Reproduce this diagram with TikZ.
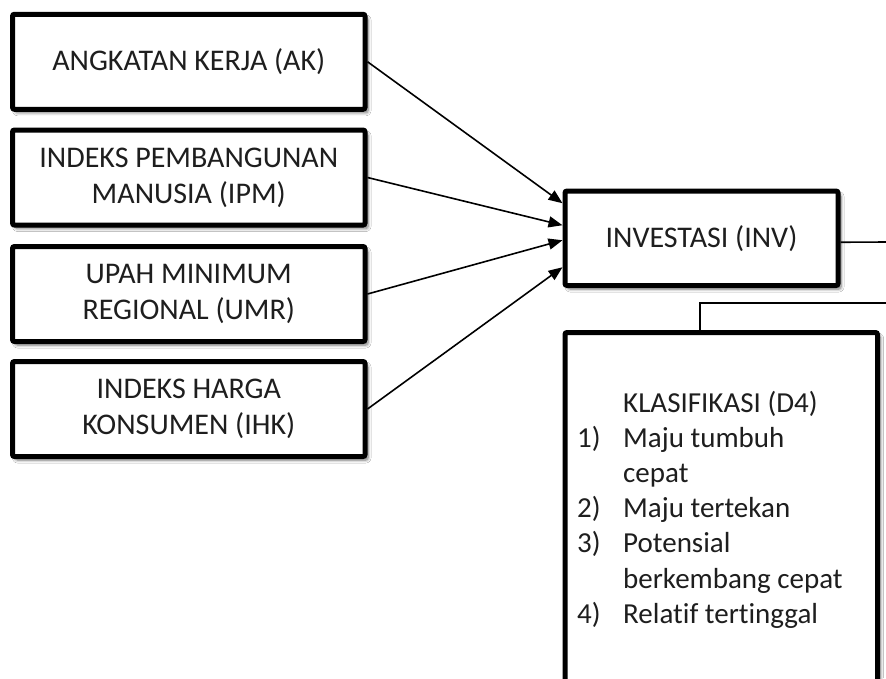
\documentclass[tikz,border=0pt]{standalone}
\usepackage{fontspec}
\setmainfont{Carlito}[Ligatures=NoCommon]
\usetikzlibrary{arrows.meta,shadows.blur,calc}
\definecolor{txt}{HTML}{1E1E1E}
\tikzset{
  box/.style={draw=black, line width=5pt, rounded corners=2pt, fill=white,
    minimum width=352.5pt, minimum height=95pt, align=center, inner sep=0pt,
    text=txt, font=\fontsize{30}{36}\selectfont,
    blur shadow={shadow xshift=3pt, shadow yshift=-3.5pt, shadow blur radius=3pt, shadow blur steps=6, shadow opacity=55}},
  arr/.style={line width=1.6pt, -{Triangle[length=14pt,width=11pt]}},
  conn/.style={line width=1.6pt}
}
\begin{document}
\begin{tikzpicture}[x=1pt,y=-1pt]
\clip (0,0) rectangle (886,678);
\fill[white] (0,0) rectangle (886,678);
\node[box] (ak)  at (188.75,61.75) {ANGKATAN KERJA (AK)};
\node[box] (ipm) at (188.75,177.5) {INDEKS PEMBANGUNAN\\MANUSIA (IPM)};
\node[box] (umr) at (188.75,294) {UPAH MINIMUM\\REGIONAL (UMR)};
\node[box] (ihk) at (188.75,409) {INDEKS HARGA\\KONSUMEN (IHK)};
\node[box, minimum width=273pt, minimum height=94.5pt] (inv) at (701.5,238.25) {INVESTASI (INV)};
\node[box, minimum width=312.5pt, minimum height=427.5pt] (klas) at (721.25,546.25) {};
\node[anchor=base west, inner sep=0pt, align=left, text=txt, font=\fontsize{29}{35.2}\selectfont] (klastext) at (577,412)
  {\begin{tabular}[t]{@{}p{46pt}@{}l@{}}
   & KLASIFIKASI (D4)\\
   1) & Maju tumbuh\\
      & cepat\\
   2) & Maju tertekan\\
   3) & Potensial\\
      & berkembang cepat\\
   4) & Relatif tertinggal
   \end{tabular}};
\coordinate (e1) at (886,242);
\coordinate (c1) at (886,303);
\coordinate (c2) at (700,303);
\draw[arr] (ak.east) -- ([yshift=35pt]inv.west);
\draw[arr] (ipm.east) -- ([yshift=13pt]inv.west);
\draw[arr] (umr.east) -- ([yshift=-2pt]inv.west);
\draw[arr] (ihk.east) -- ([yshift=-29pt]inv.west);
\draw[conn] ([yshift=-4pt]inv.east) -- (e1);
\draw[conn] (c1) -- (c2) -- (klas.north -| c2);
\end{tikzpicture}
\end{document}
